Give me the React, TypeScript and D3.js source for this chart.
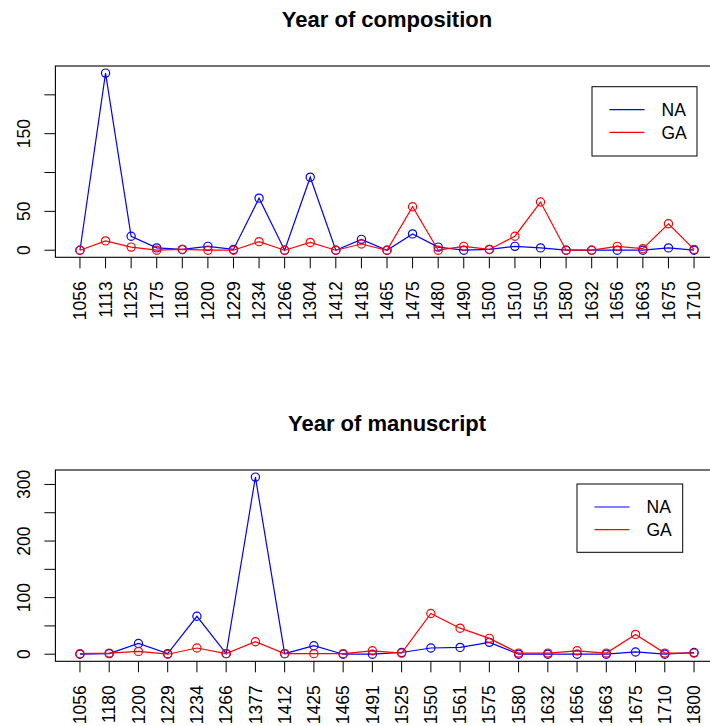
import React from "react";
import * as d3 from "d3";

// year of composition
const compYears = ["1056", "1113", "1125", "1175", "1180", "1200", "1229", "1234", "1266", "1304", "1412", "1418", "1465", "1475", "1480", "1490", "1500", "1510", "1550", "1580", "1632", "1656", "1663", "1675", "1710"];
const compNA = [0, 228, 18, 3, 1, 5, 1, 67, 0, 94, 0, 14, 0, 21, 4, 0, 1, 5, 3, 0, 0, 0, 0, 3, 0];
const compGA = [0, 12, 4, 0, 1, 0, 0, 11, 0, 10, 0, 8, 0, 56, 0, 5, 1, 18, 62, 0, 0, 5, 2, 34, 1];
const compTicks = [0, 50, 100, 150, 200];
const compTickLabels = [0, 50, 150];

// year of manuscript
const msYears = ["1056", "1180", "1200", "1229", "1234", "1266", "1377", "1412", "1425", "1465", "1491", "1525", "1550", "1561", "1575", "1580", "1632", "1656", "1663", "1675", "1710", "1800"];
const msNA = [0, 1, 19, 1, 67, 1, 313, 1, 15, 0, 0, 3, 11, 12, 21, 0, 0, 0, 0, 4, 0, 3];
const msGA = [1, 2, 5, 0, 11, 1, 22, 1, 1, 1, 6, 2, 72, 46, 28, 2, 2, 6, 2, 35, 2, 2];
const msTicks = [0, 50, 100, 150, 200, 250, 300];
const msTickLabels = [0, 100, 200, 300];

const seriesNames = ["NA", "GA"];
const seriesColors = ["#0000FF", "#FF0000"];

const FONT = "'Liberation Sans', Arial, Helvetica, sans-serif";
const FS = 17.5;

type PanelProps = {
  title: string;
  years: string[];
  na: number[];
  ga: number[];
  ticks: number[];
  tickLabels: number[];
  top: number; // y of plot box top
  legend: { x: number; y: number; w: number; h: number };
};

function Panel({ title, years, na, ga, ticks, tickLabels, top, legend }: PanelProps) {
  const left = 55.4;
  const right = 718.6;
  const boxH = 191.3;
  const bottom = top + boxH;

  // R style 4% padding on both axes
  const n = years.length;
  const xPad = 0.04 * (n - 1);
  const x = d3.scaleLinear().domain([1 - xPad, n + xPad]).range([left, right]);
  const maxV = d3.max([...na, ...ga]) as number;
  const yPad = 0.04 * maxV;
  const y = d3.scaleLinear().domain([-yPad, maxV + yPad]).range([bottom, top]);

  const line = d3
    .line<number>()
    .x((_, i) => x(i + 1))
    .y((d) => y(d));

  const series = [na, ga];

  return (
    <g>
      <text
        x={(left + right) / 2}
        y={top - 39}
        textAnchor="middle"
        fontWeight="bold"
        fontSize={22}
        fontFamily={FONT}
      >
        {title}
      </text>

      {series.map((s, k) => (
        <g key={k}>
          <path d={line(s) || ""} fill="none" stroke={seriesColors[k]} strokeWidth={1.2} />
          {s.map((v, i) => (
            <circle
              key={i}
              cx={x(i + 1)}
              cy={y(v)}
              r={4.1}
              fill="none"
              stroke={seriesColors[k]}
              strokeWidth={1.2}
            />
          ))}
        </g>
      ))}

      <rect x={left} y={top} width={right - left} height={boxH} fill="none" stroke="#000" strokeWidth={1.1} />

      {/* y axis */}
      {ticks.map((t) => (
        <line key={t} x1={left - 11} x2={left} y1={y(t)} y2={y(t)} stroke="#000" strokeWidth={1} />
      ))}
      {tickLabels.map((t) => (
        <text
          key={t}
          transform={`translate(29.5,${y(t)}) rotate(-90)`}
          textAnchor="middle"
          fontSize={FS}
          fontFamily={FONT}
        >
          {t}
        </text>
      ))}

      {/* x axis */}
      {years.map((yr, i) => (
        <g key={yr}>
          <line x1={x(i + 1)} x2={x(i + 1)} y1={bottom} y2={bottom + 11} stroke="#000" strokeWidth={1} />
          <text
            transform={`translate(${x(i + 1)},${bottom + 24}) rotate(-90)`}
            textAnchor="end"
            dy="0.35em"
            fontSize={FS}
            fontFamily={FONT}
          >
            {yr}
          </text>
        </g>
      ))}

      {/* legend */}
      <rect x={legend.x} y={legend.y} width={legend.w} height={legend.h} fill="#fff" stroke="#000" strokeWidth={1} />
      {seriesNames.map((name, k) => {
        const ly = legend.y + 23 + k * 22.7;
        return (
          <g key={name}>
            <line x1={legend.x + 17.5} x2={legend.x + 52.5} y1={ly} y2={ly} stroke={seriesColors[k]} strokeWidth={1.2} />
            <text x={legend.x + 69.5} y={ly} dy="0.35em" fontSize={FS} fontFamily={FONT}>
              {name}
            </text>
          </g>
        );
      })}
    </g>
  );
}

export default function App() {
  return (
    <svg
      width={710}
      height={726}
      style={{ position: "absolute", left: 0, top: 0, background: "#fff" }}
    >
      <rect width={710} height={726} fill="#fff" />
      <Panel
        title="Year of composition"
        years={compYears}
        na={compNA}
        ga={compGA}
        ticks={compTicks}
        tickLabels={compTickLabels}
        top={66}
        legend={{ x: 592, y: 86.7, w: 105, h: 69.3 }}
      />
      <Panel
        title="Year of manuscript"
        years={msYears}
        na={msNA}
        ga={msGA}
        ticks={msTicks}
        tickLabels={msTickLabels}
        top={470}
        legend={{ x: 577, y: 484, w: 105.7, h: 68.3 }}
      />
    </svg>
  );
}
